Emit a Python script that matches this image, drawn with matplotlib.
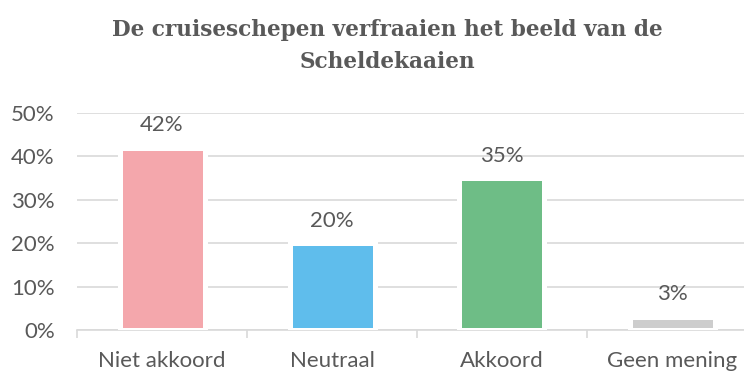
import matplotlib
matplotlib.use("Agg")
import matplotlib.pyplot as plt
from matplotlib.ticker import FuncFormatter

categories = ["Niet akkoord", "Neutraal", "Akkoord", "Geen mening"]
values = [0.42, 0.20, 0.35, 0.03]
colors = ["#F4A7AC", "#5FBDEC", "#6EBD86", "#CDCDCD"]
yticks = [0.0, 0.1, 0.2, 0.3, 0.4, 0.5]
title = "De cruiseschepen verfraaien het beeld van de\nScheldekaaien"

text_color = "#595959"
grid_color = "#D9D9D9"

W, H, DPI = 744, 373, 100
fig = plt.figure(figsize=(W / DPI, H / DPI), dpi=DPI)
ax = fig.add_axes([77 / W, 43 / H, 680 / W, 217 / H])

x = range(len(categories))
ax.bar(x, values, width=0.5, color=colors, edgecolor="white",
       linewidth=3.6, zorder=3)

for xi, v in zip(x, values):
    ax.annotate(f"{v:.0%}", (xi, v), xytext=(0, 9), textcoords="offset points",
                ha="center", va="bottom", fontsize=16, color=text_color,
                family="Lato")

ax.set_xlim(-0.5, len(categories) - 0.5)
ax.set_ylim(0, 0.5)
ax.set_yticks(yticks)
ax.yaxis.set_major_formatter(FuncFormatter(lambda v, _: f"{v:.0%}"))
ax.grid(axis="y", color=grid_color, linewidth=1.2, zorder=0)
ax.set_axisbelow(True)

ax.set_xticks(list(x))
ax.set_xticklabels(categories)
ax.set_xticks([i - 0.5 for i in range(len(categories) + 1)], minor=True)
ax.tick_params(axis="x", which="major", length=0, pad=15, labelsize=16,
               labelcolor=text_color)
ax.tick_params(axis="x", which="minor", length=6, width=1.2, color=grid_color,
               direction="out")
ax.tick_params(axis="y", length=0, pad=16, labelsize=16, labelcolor=text_color)
for lbl in ax.get_xticklabels() + ax.get_yticklabels():
    lbl.set_family("Lato")

for s in ["top", "right", "left"]:
    ax.spines[s].set_visible(False)
ax.spines["bottom"].set_color(grid_color)
ax.spines["bottom"].set_linewidth(1.2)

fig.text(387 / W, 1 - 19 / H, title, ha="center", va="top", fontsize=15.6,
         fontweight="bold", family="DejaVu Serif", color=text_color,
         linespacing=1.6)

fig.savefig("out.png", dpi=DPI)
